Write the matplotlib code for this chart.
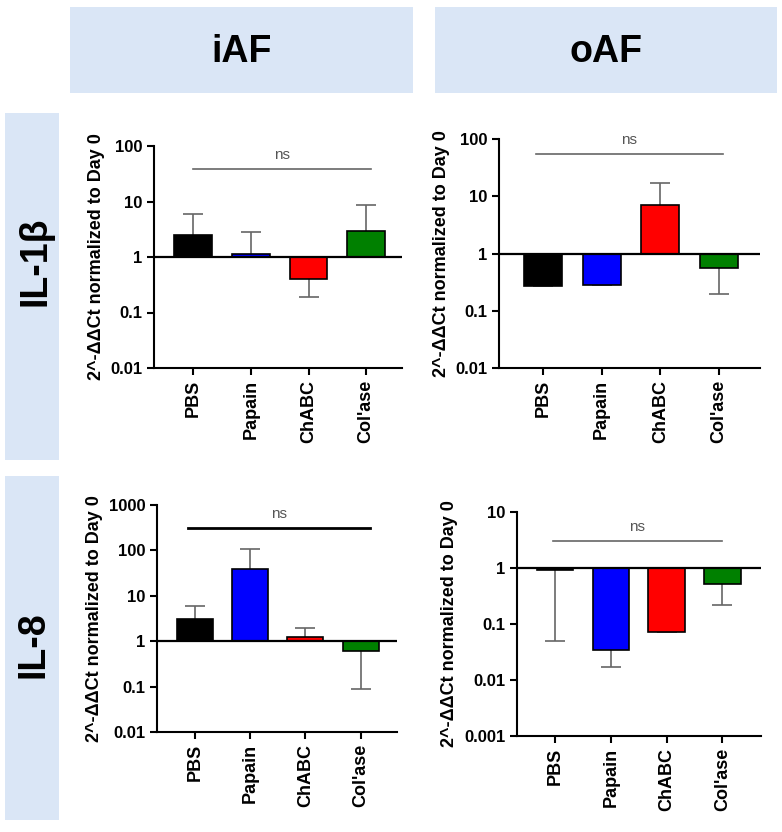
import matplotlib
matplotlib.use("Agg")
import matplotlib.pyplot as plt
from matplotlib.patches import Rectangle
import numpy as np

plt.rcParams['font.family'] = ['Liberation Sans', 'DejaVu Sans']

# ---------------- data ----------------
groups = ["PBS", "Papain", "ChABC", "Col'ase"]
bar_colors = ["#000000", "#0000ff", "#ff0000", "#008000"]

col_titles = ["iAF", "oAF"]
row_titles = ["IL-1β", "IL-8"]

il1b_iaf_mean = [2.49, 1.12, 0.40, 2.94]
il1b_iaf_err = [3.5, 1.67, 0.21, 5.7]

il1b_oaf_mean = [0.272, 0.28, 6.97, 0.56]
il1b_oaf_err = [0.004, 0.003, 10.1, 0.36]

il8_iaf_mean = [3.12, 39.6, 1.21, 0.60]
il8_iaf_err = [2.7, 69.0, 0.7, 0.51]

il8_oaf_mean = [0.93, 0.034, 0.073, 0.52]
il8_oaf_err = [0.88, 0.017, 0.002, 0.30]

il1b_ticks = [0.01, 0.1, 1, 10, 100]
il1b_ticklabels = ["0.01", "0.1", "1", "10", "100"]
il8_iaf_ticks = [0.01, 0.1, 1, 10, 100, 1000]
il8_iaf_ticklabels = ["0.01", "0.1", "1", "10", "100", "1000"]
il8_oaf_ticks = [0.001, 0.01, 0.1, 1, 10]
il8_oaf_ticklabels = ["0.001", "0.01", "0.1", "1", "10"]

ns_level = {"il1b_iaf": 39, "il1b_oaf": 54, "il8_iaf": 307, "il8_oaf": 3.07}

ylabel = "2^-ΔΔCt normalized to Day 0"

# ---------------- figure ----------------
W, H = 782, 832
fig = plt.figure(figsize=(W / 100, H / 100), dpi=100)
fig.patch.set_facecolor("white")

box_color = "#dae6f6"


def fbox(x0, y0, x1, y1):
    fig.patches.append(Rectangle((x0 / W, 1 - y1 / H), (x1 - x0) / W, (y1 - y0) / H,
                                 transform=fig.transFigure, facecolor=box_color,
                                 edgecolor="none", zorder=0))


fbox(70, 7, 413, 93)
fbox(435, 7, 777, 93)
fbox(5, 113, 59, 460)
fbox(5, 476, 59, 820)

fig.text(242 / W, 1 - 62 / H, col_titles[0], fontsize=27, fontweight="bold",
         ha="center", va="baseline", rotation_mode="anchor")
fig.text(606 / W, 1 - 62 / H, col_titles[1], fontsize=27, fontweight="bold",
         ha="center", va="baseline", rotation_mode="anchor")
fig.text(45 / W, 1 - 261 / H, row_titles[0], fontsize=27, fontweight="bold",
         rotation=90, ha="center", va="baseline", rotation_mode="anchor")
fig.text(44 / W, 1 - 645 / H, row_titles[1], fontsize=27, fontweight="bold",
         rotation=90, ha="center", va="baseline", rotation_mode="anchor")


def panel(rect_px, means, errs, ylim, ticks, ticklabels, xlim, ns_y, ns_x0, ns_x1,
          ns_color="#666666", ns_lw=1.2):
    x0, y0, x1, y1 = rect_px
    ax = fig.add_axes([x0 / W, 1 - y1 / H, (x1 - x0) / W, (y1 - y0) / H])
    ax.set_yscale("log")
    ax.set_ylim(*ylim)
    ax.set_xlim(*xlim)
    xs = np.arange(len(groups))
    for x, m, e, c in zip(xs, means, errs, bar_colors):
        ax.bar(x, m - 1, bottom=1, width=0.65, color=c, edgecolor="black",
               linewidth=1.2, zorder=3)
        if m >= 1:
            yerr = [[0], [e]]
        else:
            yerr = [[e], [0]]
        _, caps, _ = ax.errorbar([x], [m], yerr=yerr, fmt="none", ecolor="#666666",
                                 elinewidth=1.2, capsize=7, capthick=1.2, zorder=2)
        for cl in caps:
            if np.allclose(cl.get_ydata(), m):
                cl.set_visible(False)
    ax.axhline(1, color="black", lw=1.6, zorder=4)
    ax.plot([ns_x0, ns_x1], [ns_y, ns_y], color=ns_color, lw=ns_lw, zorder=4)
    ax.annotate("ns", ((ns_x0 + ns_x1) / 2, ns_y), xytext=(0, 14),
                textcoords="offset pixels", ha="center", va="center",
                fontsize=11, color="#555555")
    ax.set_yticks(ticks)
    ax.set_yticklabels(ticklabels)
    ax.minorticks_off()
    ax.set_xticks(xs)
    ax.set_xticklabels(groups, rotation=90)
    for lab in ax.get_yticklabels():
        lab.set_fontweight("bold")
        lab.set_fontsize(12)
    for lab in ax.get_xticklabels():
        lab.set_fontweight("bold")
        lab.set_fontsize(13)
    ax.tick_params(axis="both", which="major", length=5, width=1.5, direction="out")
    for s in ["top", "right"]:
        ax.spines[s].set_visible(False)
    for s in ["left", "bottom"]:
        ax.spines[s].set_linewidth(1.5)
    ax.set_ylabel(ylabel, fontsize=13, fontweight="bold", labelpad=4)
    ax.set_facecolor("none")
    return ax


panel((154, 146, 402, 368), il1b_iaf_mean, il1b_iaf_err, (0.01, 100),
      il1b_ticks, il1b_ticklabels, (-0.68, 3.62), ns_level["il1b_iaf"], -0.0, 3.08)
panel((499, 139, 760, 368), il1b_oaf_mean, il1b_oaf_err, (0.01, 100),
      il1b_ticks, il1b_ticklabels, (-0.75, 3.70), ns_level["il1b_oaf"], -0.12, 3.07)
panel((157, 505, 397, 732), il8_iaf_mean, il8_iaf_err, (0.01, 1000),
      il8_iaf_ticks, il8_iaf_ticklabels, (-0.69, 3.66), ns_level["il8_iaf"], -0.13, 3.17,
      ns_color="black", ns_lw=2.0)
panel((517, 512, 761, 736), il8_oaf_mean, il8_oaf_err, (0.001, 10),
      il8_oaf_ticks, il8_oaf_ticklabels, (-0.68, 3.69), ns_level["il8_oaf"], -0.04, 2.99)

fig.savefig("out.png", dpi=100, facecolor="white")
